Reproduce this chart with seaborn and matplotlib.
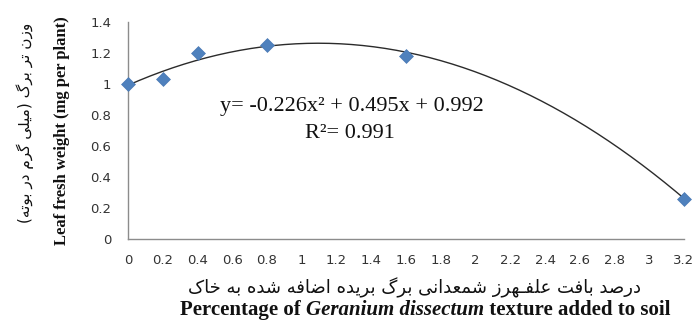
import numpy as np
import pandas as pd
import matplotlib
matplotlib.use("Agg")
import matplotlib.pyplot as plt
import seaborn as sns

# Measured leaf fresh weight against added tissue percentage
percent = [0, 0.2, 0.4, 0.8, 1.6, 3.2]
weight = [1.00, 1.03, 1.20, 1.25, 1.18, 0.26]

# Quadratic trendline coefficients and fit quality
coef_a, coef_b, coef_c = -0.226, 0.495, 0.992
r_squared = 0.991

x_ticks = [0, 0.2, 0.4, 0.6, 0.8, 1.0, 1.2, 1.4, 1.6, 1.8, 2.0, 2.2, 2.4, 2.6, 2.8, 3.0, 3.2]
x_tick_labels = ["0", "0.2", "0.4", "0.6", "0.8", "1", "1.2", "1.4", "1.6", "1.8",
                 "2", "2.2", "2.4", "2.6", "2.8", "3", "3.2"]
y_ticks = [0, 0.2, 0.4, 0.6, 0.8, 1.0, 1.2, 1.4]
y_tick_labels = ["0", "0.2", "0.4", "0.6", "0.8", "1", "1.2", "1.4"]

xlabel_fa = "درصد بافت علفـهرز شمعدانی برگ بریده اضافه شده به خاک"
xlabel_en = [("Percentage of ", "normal"), ("Geranium dissectum", "italic"),
             (" texture added to soil", "normal")]
ylabel_fa = "وزن تر برگ (میلی گرم در بوته)"
ylabel_en = "Leaf fresh weight (mg per plant)"

# --- minimal Persian shaping (presentation forms + visual order) ---
_DUAL = {
    "\u0628": (0xFE8F, 0xFE90, 0xFE91, 0xFE92),
    "\u062A": (0xFE95, 0xFE96, 0xFE97, 0xFE98),
    "\u062E": (0xFEA5, 0xFEA6, 0xFEA7, 0xFEA8),
    "\u0634": (0xFEB5, 0xFEB6, 0xFEB7, 0xFEB8),
    "\u0635": (0xFEB9, 0xFEBA, 0xFEBB, 0xFEBC),
    "\u0636": (0xFEBD, 0xFEBE, 0xFEBF, 0xFEC0),
    "\u0639": (0xFEC9, 0xFECA, 0xFECB, 0xFECC),
    "\u0641": (0xFED1, 0xFED2, 0xFED3, 0xFED4),
    "\u0644": (0xFEDD, 0xFEDE, 0xFEDF, 0xFEE0),
    "\u0645": (0xFEE1, 0xFEE2, 0xFEE3, 0xFEE4),
    "\u0646": (0xFEE5, 0xFEE6, 0xFEE7, 0xFEE8),
    "\u0647": (0xFEE9, 0xFEEA, 0xFEEB, 0xFEEC),
    "\u06A9": (0xFB8E, 0xFB8F, 0xFB90, 0xFB91),
    "\u06AF": (0xFB92, 0xFB93, 0xFB94, 0xFB95),
    "\u06CC": (0xFBFC, 0xFBFD, 0xFBFE, 0xFBFF),
    "\u0640": (0x0640, 0x0640, 0x0640, 0x0640),
}
_RIGHT = {
    "\u0627": (0xFE8D, 0xFE8E),
    "\u062F": (0xFEA9, 0xFEAA),
    "\u0631": (0xFEAD, 0xFEAE),
    "\u0632": (0xFEAF, 0xFEB0),
    "\u0648": (0xFEED, 0xFEEE),
}


def shape_fa(text):
    text = text.replace("\u064A", "\u06CC").replace("\u0643", "\u06A9")
    out = []
    n = len(text)
    for i, ch in enumerate(text):
        prev = text[i - 1] if i > 0 else ""
        nxt = text[i + 1] if i < n - 1 else ""
        join_prev = prev in _DUAL and (ch in _DUAL or ch in _RIGHT)
        join_next = ch in _DUAL and (nxt in _DUAL or nxt in _RIGHT)
        if ch in _DUAL:
            iso, fin, ini, med = _DUAL[ch]
            if join_prev and join_next:
                cp = med
            elif join_prev:
                cp = fin
            elif join_next:
                cp = ini
            else:
                cp = iso
            out.append(chr(cp))
        elif ch in _RIGHT:
            iso, fin = _RIGHT[ch]
            out.append(chr(fin if join_prev else iso))
        else:
            out.append(ch)
    vis = "".join(reversed(out))
    return vis.translate(str.maketrans("()", ")("))


sns.set_theme(style="white")
plt.rcParams["font.family"] = ["DejaVu Sans"]

W, H = 697, 320
fig = plt.figure(figsize=(W / 100, H / 100), dpi=100)
ax = fig.add_axes([128 / W, 1 - 239 / H, (684 - 128) / W, (239 - 22) / H])

# trendline from the stated equation
xs = np.linspace(0, 3.2, 200)
trend = pd.DataFrame({"x": xs, "y": coef_a * xs ** 2 + coef_b * xs + coef_c})
sns.lineplot(data=trend, x="x", y="y", ax=ax, color="#2b2b2b", linewidth=1.0, zorder=2)

obs = pd.DataFrame({"percent": percent, "weight": weight})
sns.scatterplot(data=obs, x="percent", y="weight", ax=ax, marker="D", s=50,
                color="#4F81BD", edgecolor="#4a7ab5", linewidth=0.5,
                zorder=3, clip_on=False)

ax.set_xlim(0, 3.2)
ax.set_ylim(0, 1.4)
ax.set_xticks(x_ticks)
ax.set_xticklabels(x_tick_labels)
ax.set_yticks(y_ticks)
ax.set_yticklabels(y_tick_labels)
ax.set_xlabel("")
ax.set_ylabel("")
sns.despine(ax=ax)
for side in ("left", "bottom"):
    ax.spines[side].set_color("#8c8c8c")
    ax.spines[side].set_linewidth(1.0)
ax.tick_params(axis="both", direction="out", length=4, width=1, color="#8c8c8c",
               labelsize=9.5, labelcolor="#333333")
ax.tick_params(axis="y", pad=8)
ax.tick_params(axis="x", pad=6.5)
ax.grid(False)

# fit equation
fig.text(352 / W, 1 - 107 / H, "y= %.3fx² + %.3fx + %.3f" % (coef_a, coef_b, coef_c),
         family="Liberation Serif", fontsize=16, ha="center", va="center", color="#111111")
fig.text(350 / W, 1 - 133 / H, "R²= %.3f" % r_squared,
         family="Liberation Serif", fontsize=16, ha="center", va="center", color="#111111")

# axis titles (Persian + English)
fig.text(414 / W, 1 - 288 / H, shape_fa(xlabel_fa), family=["DejaVu Sans"],
         fontsize=13, ha="center", va="center", color="#111111")

# English x title in pieces so the species name can be italic
renderer = fig.canvas.get_renderer()
pieces = []
for txt, style in xlabel_en:
    t = fig.text(0, 1 - 315 / H, txt, family="Liberation Serif", weight="bold",
                 style=style, fontsize=15, ha="left", va="baseline", color="#111111")
    pieces.append(t)
widths = [p.get_window_extent(renderer).width for p in pieces]
x0 = 425 - sum(widths) / 2
for p, w in zip(pieces, widths):
    p.set_x(x0 / W)
    x0 += w

fig.text(25 / W, 1 - 123 / H, shape_fa(ylabel_fa), family=["DejaVu Sans"],
         fontsize=11, rotation=90, ha="center", va="center", color="#111111")
fig.text(62 / W, 1 - 131 / H, ylabel_en, family="Liberation Serif", weight="bold",
         fontsize=12, rotation=90, ha="center", va="center", color="#111111")

fig.savefig("out.png", dpi=100, facecolor="white")
